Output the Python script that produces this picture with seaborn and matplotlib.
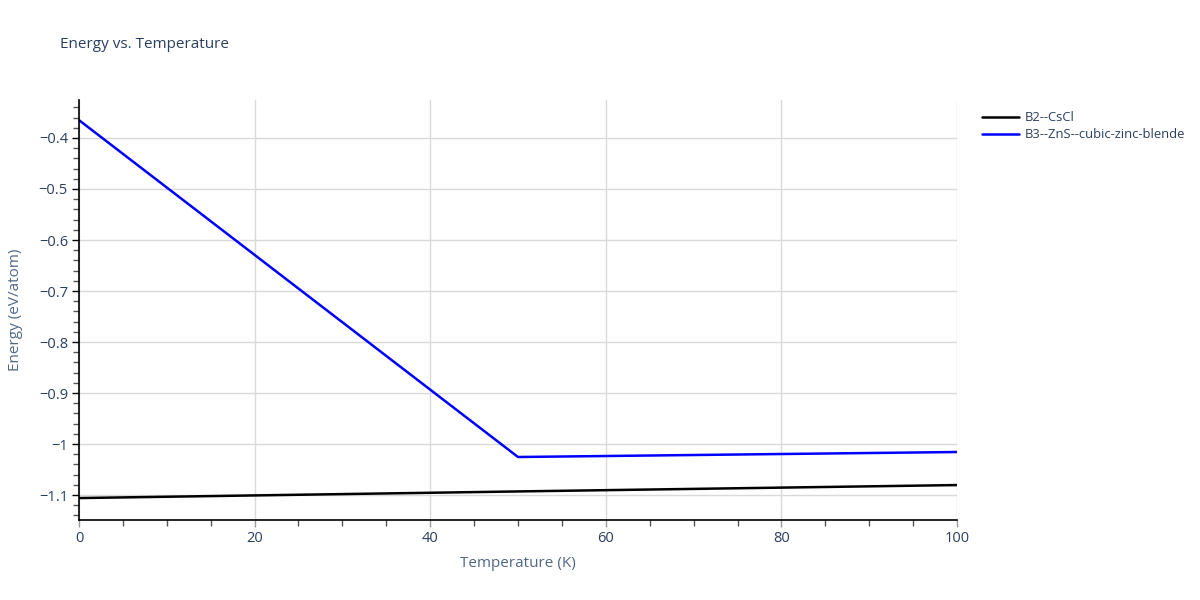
import pandas as pd
import matplotlib.pyplot as plt
import seaborn as sns
from matplotlib.ticker import MultipleLocator

# Data
temps = [0, 50, 100]
b2_energy = [-1.106, -1.093, -1.0805]
b3_energy = [-0.365, -1.0255, -1.0157]
series_names = ["B2--CsCl", "B3--ZnS--cubic-zinc-blende"]
series_colors = ["#000000", "#0000ff"]

df = pd.concat([
    pd.DataFrame({"Temperature": temps, "Energy": b2_energy, "Structure": series_names[0]}),
    pd.DataFrame({"Temperature": temps, "Energy": b3_energy, "Structure": series_names[1]}),
])

sns.set_style("white")
plt.rcParams['font.family'] = ['Open Sans', 'DejaVu Sans']
text_color = "#2a3f5f"
label_color = "#506784"

fig = plt.figure(figsize=(12, 6), dpi=100)
ax = fig.add_axes([79 / 1200, 80 / 600, (957 - 79) / 1200, (520 - 100) / 600])

sns.lineplot(data=df, x="Temperature", y="Energy", hue="Structure",
             palette=dict(zip(series_names, series_colors)), linewidth=1.8,
             ax=ax, legend=False)

ax.set_xlim(0, 100)
ax.set_ylim(-1.149, -0.3255)
ax.xaxis.set_major_locator(MultipleLocator(20))
ax.xaxis.set_minor_locator(MultipleLocator(5))
ax.yaxis.set_major_locator(MultipleLocator(0.1))
ax.yaxis.set_minor_locator(MultipleLocator(0.02))
ax.yaxis.set_major_formatter(plt.FuncFormatter(lambda v, p: f"{v:.1f}".rstrip('0').rstrip('.').replace('-', '\u2212')))

ax.grid(True, which="major", color="#d9d9d9", linewidth=1)
for s in ["top", "right"]:
    ax.spines[s].set_visible(False)
for s in ["left", "bottom"]:
    ax.spines[s].set_color("black")
    ax.spines[s].set_linewidth(1.2)

ax.tick_params(axis="both", which="both", bottom=True, left=True)
ax.tick_params(axis="both", which="major", direction="out", length=5, width=1,
               color="#999999", labelsize=10.5, labelcolor=text_color, pad=3)
ax.tick_params(axis="both", which="minor", direction="out", length=4, width=1,
               color="#555555")
ax.tick_params(axis="y", which="major", color="black")

ax.set_xlabel("Temperature (K)", fontsize=11, color=label_color, labelpad=7)
ax.set_ylabel("Energy (eV/atom)", fontsize=11, color=label_color, labelpad=11)

fig.text(60 / 1200, 1 - 45 / 600, "Energy vs. Temperature", fontsize=11,
         color=text_color, va="center", ha="left")

# legend
handles = [plt.Line2D([], [], color=c, linewidth=1.8) for c in series_colors]
fig.legend(handles, series_names, loc="upper left", bbox_to_anchor=(977 / 1200, 1 - 106 / 600),
           frameon=False, fontsize=9.4, labelcolor=text_color, handlelength=2.8,
           handletextpad=0.45, labelspacing=0.3, borderaxespad=0)

fig.savefig("out.png", dpi=100)
